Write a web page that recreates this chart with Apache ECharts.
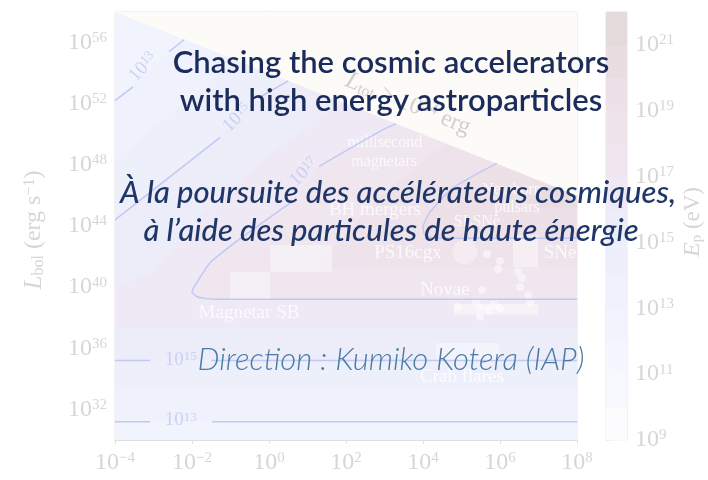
<!DOCTYPE html>
<html><head><meta charset="utf-8">
<script src="https://cdn.jsdelivr.net/npm/echarts@6/dist/echarts.min.js"></script>
<style>html,body{margin:0;padding:0;background:#fff;}#c{width:708px;height:480px;}</style>
</head><body><div id="c"></div>
<script>
// ---------- data (log10 units) ----------
const xTicks = [-4, -2, 0, 2, 4, 6, 8];            // log10 t
const yTicks = [32, 36, 40, 44, 48, 52, 56];       // log10 L_bol
const cbTicks = [9, 11, 13, 15, 17, 19, 21];       // log10 E_p
const cbLevels = [9, 10, 11, 12, 13, 14, 15, 16, 17, 18, 19, 20, 21];
const cbColors = ['#fcfcfe', '#f8f9fe', '#f5f7fe', '#f1f4fd', '#eff2fc', '#edf0fb', '#ecedf9',
                  '#eee9f4', '#efe6ef', '#efe3eb', '#eee0e7', '#eadde2', '#e2dadb'];

// filled contour regions: level (log10 E_p) and vertices [log t, log L]
const bandLevels = [12, 13, 14, 15, 16, 17, 18, 19, 20];
const bandShapes = [
  [[-4, 30], [8, 30], [8, 58], [-4, 58]],
  [[-4, 31.2], [8, 31.2], [8, 46], [-2.2, 56.2], [-4, 52.2]],
  [[-4, 33.25], [8, 33.25], [8, 46], [-0.85, 54.85], [-4, 48.3]],
  [[-4, 35.2], [8, 35.2], [8, 46], [0.5, 53.5], [-0.23, 52.44], [-1.27, 49.8], [-4, 44.4]],
  [[-4, 37.3], [8, 37.3], [8, 46], [1.9, 52.1], [0.2, 49.0], [-1.6, 45.0], [-3.0, 41.0], [-4, 40.0]],
  [[-1.4, 39.2], [8, 39.2], [8, 46], [3.3, 50.7], [2.96, 50.3], [1.3, 47.9], [0.6, 45.6], [-0.68, 43.3], [-1.53, 41.6], [-1.8, 40.6], [-2.0, 39.7], [-1.85, 39.35]],
  [[1.5, 41.25], [8, 41.25], [8, 46], [4.6, 49.4], [3.2, 46.6], [1.8, 43.0], [1.2, 41.6]],
  [[4.3, 43.2], [8, 43.2], [8, 46], [5.95, 48.05], [4.78, 46.5], [4.18, 44.9], [4.0, 43.9], [4.05, 43.4]],
  [[6.8, 45.2], [8, 45.2], [8, 46], [7.3, 46.7], [6.7, 45.6]]
];
const excludedShape = [[-4, 58], [8, 46], [8, 58]];   // L_tot limit

// contour lines (segments, broken where labels sit)
const contourSegments = [
  [[-4, 31.2], [-3.09, 31.2]], [[-1.48, 31.2], [8, 31.2]],
  [[-4, 35.2], [-3.09, 35.2]], [[-1.5, 35.2], [8, 35.2]],
  [[-4, 52.2], [-3.53, 53.1]], [[-2.6, 55.4], [-2.2, 56.2]],
  [[-4, 44.4], [-1.27, 49.8]], [[-0.23, 52.44], [0.5, 53.5]],
  [[8, 39.2], [-1.4, 39.2], [-1.85, 39.35], [-2.0, 39.7], [-1.8, 40.6], [-1.53, 41.6], [-0.68, 43.3], [0.6, 45.6]],
  [[1.3, 47.9], [2.96, 50.3], [3.3, 50.7]],
  [[8, 43.2], [4.3, 43.2], [4.05, 43.4], [4.0, 43.9], [4.18, 44.9], [4.78, 46.5], [5.92, 48.1]]
];
const contourLabelPos = [[-2.29, 31.3], [-2.29, 35.23], [-3.27, 54.4], [-0.83, 51.07], [0.91, 47.53]];
const contourLabelExp = ['13', '15', '13', '15', '17'];
const contourLabelRot = [0, 0, 48, 45, 45];

// source regions
const sourceRects = [   // [t0, L0, t1, L1]
  [-1.01, 39.16, 0.03, 41.0],
  [0.03, 41.0, 1.64, 42.75],
  [4.34, 35.23, 5.97, 36.34],
  [6.34, 41.3, 6.99, 43.4],
  [4.8, 38.2, 7.0, 38.9]
];
const ps16cgx = [[5.09, 42.3]];
const novaePoints = [[5.66, 42.17], [6.0, 41.71], [5.95, 41.19], [6.47, 40.99], [6.57, 40.6], [6.52, 40.01],
  [6.73, 39.49], [6.78, 39.03], [5.53, 39.81], [5.38, 39.03], [5.48, 38.7], [5.69, 38.5], [6.0, 38.64],
  [4.91, 38.7], [5.48, 38.05], [5.84, 38.83]];
const sourceNames = ['millisecond', 'magnetars', 'BH mergers', 'Newborn', 'pulsars', 'SLSNe', 'PS16cgx', 'SNe', 'Novae', 'Magnetar SB', 'Crab flares'];
const sourcePos = [[3.01, 49.43], [2.99, 48.19], [2.75, 45.05], [6.31, 46.35], [6.44, 45.18], [5.4, 44.26], [3.61, 42.23], [7.56, 42.23], [4.57, 39.81], [-0.52, 38.31], [5.01, 34.12]];
const sourceSize = [16, 16, 19, 16, 16, 16, 19, 19, 19, 19, 19];

// ---------- styles ----------
const SERIF = "'Liberation Serif', 'DejaVu Serif', serif";
const AX = '#d6d6d6';
const CONT = '#c0c8f4';
function expStr(v) { return v < 0 ? '\u2212' + (-v) : String(v); }
const tickRich = {
  b: { fontSize: 24, fontFamily: SERIF, color: AX },
  s: { fontSize: 15, fontFamily: SERIF, color: AX, verticalAlign: 'top' }
};
const contRich = {
  b: { fontSize: 19, fontFamily: SERIF, color: CONT },
  s: { fontSize: 13, fontFamily: SERIF, color: CONT, verticalAlign: 'top' }
};

const chart = echarts.init(document.getElementById('c'));

const series = [];
series.push({
  type: 'custom', xAxisIndex: 0, yAxisIndex: 0, clip: true, silent: true,
  data: bandShapes.map(s => s[0]),
  renderItem: (params, api) => ({
    type: 'polygon',
    shape: { points: bandShapes[params.dataIndex].map(p => api.coord(p)) },
    style: { fill: cbColors[bandLevels[params.dataIndex] - 9] }
  })
});
series.push({
  type: 'custom', xAxisIndex: 0, yAxisIndex: 0, clip: true, silent: true,
  data: [excludedShape[0]],
  renderItem: (params, api) => ({
    type: 'polygon', shape: { points: excludedShape.map(p => api.coord(p)) },
    style: { fill: '#fdfbf7' }
  })
});
series.push({
  type: 'custom', xAxisIndex: 0, yAxisIndex: 0, clip: true, silent: true,
  data: sourceRects,
  renderItem: (params, api) => {
    const a = api.coord([api.value(0), api.value(1)]);
    const b = api.coord([api.value(2), api.value(3)]);
    return { type: 'rect', shape: { x: a[0], y: b[1], width: b[0] - a[0], height: a[1] - b[1] },
      style: { fill: 'rgba(255,255,255,0.4)' } };
  }
});
series.push({ type: 'scatter', data: ps16cgx, symbolSize: 25, silent: true,
  itemStyle: { color: 'rgba(255,255,255,0.4)' } });
series.push({ type: 'scatter', data: novaePoints, symbolSize: 8, silent: true,
  itemStyle: { color: 'rgba(255,255,255,0.6)' } });
contourSegments.forEach(seg => series.push({
  type: 'line', data: seg, showSymbol: false, silent: true, smooth: 0.2,
  lineStyle: { color: CONT, width: 1.5 }
}));
series.push({
  type: 'scatter', symbolSize: 0, silent: true,
  data: contourLabelPos.map((p, i) => ({ value: p, name: contourLabelExp[i], label: { rotate: contourLabelRot[i] } })),
  label: { show: true, position: 'inside', formatter: p => '{b|10}{s|' + p.name + '}', rich: contRich }
});
series.push({
  type: 'scatter', symbolSize: 0, silent: true,
  data: sourcePos.map((p, i) => ({ value: p, name: sourceNames[i], label: { fontSize: sourceSize[i] } })),
  label: { show: true, position: 'inside', formatter: '{b}', color: 'rgba(255,255,255,0.95)', fontFamily: SERIF }
});
series.push({
  type: 'custom', xAxisIndex: 1, yAxisIndex: 1, silent: true,
  data: cbLevels.map(l => [0, l]),
  renderItem: (params, api) => {
    const l = api.value(1);
    const a = api.coord([0, l]);
    const b = api.coord([1, l + 1]);
    return { type: 'rect', shape: { x: a[0], y: b[1], width: b[0] - a[0], height: a[1] - b[1] + 0.5 },
      style: { fill: cbColors[params.dataIndex] } };
  }
});

chart.setOption({
  backgroundColor: '#ffffff',
  animation: false,
  grid: [
    { left: 115, top: 12, width: 462, height: 428, show: true, borderColor: '#e6e6e6', borderWidth: 1, backgroundColor: 'transparent' },
    { left: 606, top: 12, width: 21, height: 428, show: true, borderColor: '#e6e6e6', borderWidth: 1 }
  ],
  xAxis: [
    { type: 'value', gridIndex: 0, min: -4, max: 8, interval: 2,
      axisLine: { show: true, lineStyle: { color: '#e0e0e0' } },
      axisTick: { show: true, length: 4, lineStyle: { color: '#e0e0e0' } },
      splitLine: { show: false },
      axisLabel: { margin: 11, formatter: v => '{b|10}{s|' + expStr(v) + '}', rich: tickRich } },
    { type: 'value', gridIndex: 1, min: 0, max: 1, show: false }
  ],
  yAxis: [
    { type: 'value', gridIndex: 0, min: 30, max: 58,
      axisLine: { show: true, lineStyle: { color: '#e0e0e0' } },
      axisTick: { show: true, length: 4, customValues: yTicks, lineStyle: { color: '#e0e0e0' } },
      splitLine: { show: false },
      axisLabel: { margin: 8, customValues: yTicks, formatter: v => '{b|10}{s|' + expStr(v) + '}', rich: tickRich } },
    { type: 'value', gridIndex: 1, min: 9, max: 22, interval: 2, position: 'right',
      axisLine: { show: false },
      axisTick: { show: true, length: 4, lineStyle: { color: '#e0e0e0' } },
      splitLine: { show: false },
      axisLabel: { margin: 8, formatter: v => (v > 21 ? '' : '{b|10}{s|' + expStr(v) + '}'), rich: tickRich } }
  ],
  series: series,
  graphic: [
    { type: 'text', x: 34, y: 230, rotation: Math.PI / 2, z: 10,
      style: { text: '{i|L}{sub|bol} (erg s{sup|\u22121})', align: 'center', verticalAlign: 'middle',
        fill: AX, font: '24px ' + SERIF,
        rich: { i: { fontStyle: 'italic', fontSize: 25, fontFamily: SERIF, fill: AX },
                sub: { fontSize: 16, fontFamily: SERIF, fill: AX, verticalAlign: 'bottom' },
                sup: { fontSize: 16, fontFamily: SERIF, fill: AX, verticalAlign: 'top' } } } },
    { type: 'text', x: 693, y: 222, rotation: Math.PI / 2, z: 10,
      style: { text: '{i|E}{sub|p} (eV)', align: 'center', verticalAlign: 'middle',
        fill: AX, font: '23px ' + SERIF,
        rich: { i: { fontStyle: 'italic', fontSize: 24, fontFamily: SERIF, fill: AX },
                sub: { fontSize: 15, fontFamily: SERIF, fill: AX, verticalAlign: 'bottom' } } } },
    { type: 'text', x: 408, y: 104, rotation: -0.38, z: 10,
      style: { text: '{i|L}{sub|tot} > 10{sup|54} erg', align: 'center', verticalAlign: 'middle',
        fill: '#d0d0d0', font: '24px ' + SERIF,
        rich: { i: { fontStyle: 'italic', fontSize: 25, fontFamily: SERIF, fill: '#d0d0d0' },
                sub: { fontSize: 16, fontFamily: SERIF, fill: '#d0d0d0', verticalAlign: 'bottom' },
                sup: { fontSize: 16, fontFamily: SERIF, fill: '#d0d0d0', verticalAlign: 'top' } } } },
    { type: 'text', x: 391, y: 63, z: 20,
      style: { text: 'Chasing the cosmic accelerators', align: 'center', verticalAlign: 'middle',
        fill: '#1b2c5c', font: '600 31px Lato' } },
    { type: 'text', x: 391, y: 101, z: 20,
      style: { text: 'with high energy astroparticles', align: 'center', verticalAlign: 'middle',
        fill: '#1b2c5c', font: '600 31px Lato' } },
    { type: 'text', x: 398, y: 193, z: 20,
      style: { text: 'À la poursuite des accélérateurs cosmiques,', align: 'center', verticalAlign: 'middle',
        fill: '#1e3668', font: 'italic 500 31px Lato' } },
    { type: 'text', x: 391, y: 231, z: 20,
      style: { text: 'à l’aide des particules de haute énergie', align: 'center', verticalAlign: 'middle',
        fill: '#1e3668', font: 'italic 500 31px Lato' } },
    { type: 'text', x: 391, y: 360, z: 20,
      style: { text: 'Direction : Kumiko Kotera (IAP)', align: 'center', verticalAlign: 'middle',
        fill: '#4a7ca3', font: 'italic 300 31px Lato' } }
  ]
});
</script>
</body></html>
